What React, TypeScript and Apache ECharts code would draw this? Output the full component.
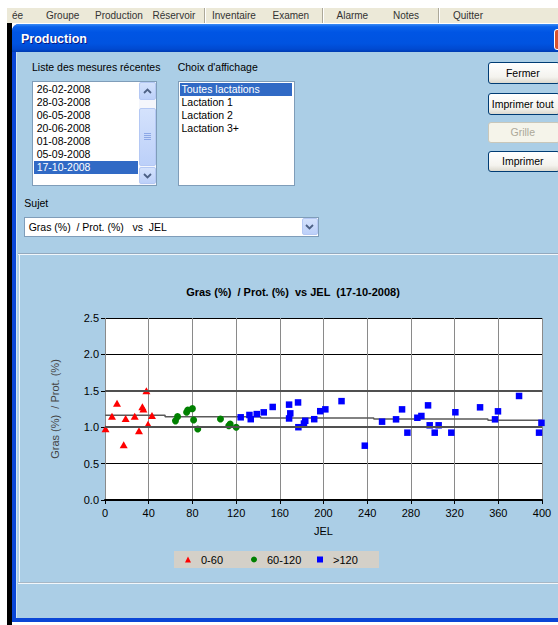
import React, { useEffect, useRef } from "react";
import * as echarts from "echarts";

const FONT = '"Liberation Sans", Arial, Helvetica, sans-serif';

// ---------- data ----------
const seriesNames = ["0-60", "60-120", ">120"];
const chartTitle = "Gras (%)  / Prot. (%)  vs JEL  (17-10-2008)";
const xAxisName = "JEL";
const yAxisName = "Gras (%)  / Prot. (%)";

const jel0to60 = [0.5, 6.4, 11, 17.1, 18.9, 27.2, 31.1, 34.2, 35.1, 37.9, 39.4, 43];
const ratio0to60 = [0.98, 1.15, 1.33, 0.76, 1.12, 1.15, 0.95, 1.28, 1.25, 1.5, 1.04, 1.16];

const jel60to120 = [64.5, 66.4, 74.7, 75.8, 80, 81.1, 84.9, 105.7, 113.3, 114.6, 120.1];
const ratio60to120 = [1.087, 1.145, 1.205, 1.236, 1.255, 1.1, 0.975, 1.113, 1.02, 1.042, 1.0];

const jelOver120 = [124.2, 132.2, 133.4, 138.9, 145.3, 153.5, 168.5, 169.6, 168.5, 176.7, 177, 182.1, 183.3, 191.5, 197, 201.7, 216.5, 237.8, 253.6, 266.4, 271.9, 276.8, 285.9, 289.6, 295.7, 297.2, 301.8, 305.4, 317, 320.7, 343.3, 357, 359.7, 379, 397.3, 399.5];
const ratioOver120 = [1.136, 1.168, 1.11, 1.18, 1.204, 1.278, 1.31, 1.19, 1.12, 1.34, 1.0, 1.05, 1.088, 1.11, 1.22, 1.245, 1.358, 0.746, 1.076, 1.108, 1.245, 0.925, 1.13, 1.154, 1.3, 1.026, 0.925, 1.026, 0.925, 1.205, 1.273, 1.108, 1.218, 1.429, 0.925, 1.06];

const trendJel = [0, 55, 142.5, 246, 350.5, 400];
const trendRatio = [1.163, 1.143, 1.125, 1.112, 1.095, 1.095];

const referenceLines = [1.0, 1.5];

const xTicks = { min: 0, max: 400, interval: 40 };
const yTicks = { min: 0, max: 2.5, interval: 0.5 };

// ---------- UI texts ----------
const menuItems: [string, number][] = [
  ["ée", 12], ["Groupe", 46], ["Production", 95], ["Réservoir", 152.5], ["Inventaire", 212],
  ["Examen", 272.5], ["Alarme", 336.5], ["Notes", 393], ["Quitter", 453],
];
const menuSeparators = [204, 321.5, 438];
const dates = ["26-02-2008", "28-03-2008", "06-05-2008", "20-06-2008", "01-08-2008", "05-09-2008", "17-10-2008"];
const lactations = ["Toutes lactations", "Lactation 1", "Lactation 2", "Lactation 3+"];
const buttons: [string, number, boolean][] = [
  ["Fermer", 62.3, true], ["Imprimer tout", 93.3, true], ["Grille", 121.7, false], ["Imprimer", 150.5, true],
];

const zip = (xs: number[], ys: number[]) => xs.map((x, i) => [x, ys[i]]);

function pos(left: number, top: number, width: number, height: number, extra: React.CSSProperties = {}): React.CSSProperties {
  return { position: "absolute", left, top, width, height, boxSizing: "border-box", ...extra };
}

const Chevron = ({ up }: { up?: boolean }) => (
  <svg width="9" height="6" viewBox="0 0 9 6" style={{ display: "block" }}>
    <polyline points={up ? "1,5 4.5,1.5 8,5" : "1,1 4.5,4.5 8,1"} fill="none" stroke="#4D6185" strokeWidth="1.8" />
  </svg>
);

const xpBtn: React.CSSProperties = {
  background: "linear-gradient(#D4E2FC, #BCD0F9)",
  border: "1px solid #B4C8F4",
  borderRadius: 2,
  display: "flex",
  alignItems: "center",
  justifyContent: "center",
};

export default function App() {
  const ref = useRef<HTMLDivElement>(null);

  useEffect(() => {
    const chart = echarts.init(ref.current!, undefined, { renderer: "svg" });
    const option: any = {
      animation: false,
      backgroundColor: "transparent",
      textStyle: { fontFamily: FONT },
      graphic: [
        {
          type: "text",
          x: 273,
          y: 37,
          style: {
            text: chartTitle,
            font: `bold 11px ${FONT}`,
            fill: "#000",
            align: "center",
            verticalAlign: "middle",
          },
        },
      ],
      grid: { left: 85, top: 63, width: 437, height: 182, show: true, backgroundColor: "#fff", borderWidth: 0 },
      legend: {
        data: seriesNames,
        left: 154,
        top: 296,
        orient: "horizontal",
        backgroundColor: "#D4D0C8",
        borderWidth: 0,
        padding: [2, 6, 2, 11],
        itemWidth: 6,
        itemHeight: 6,
        itemGap: 10,
        itemStyle: { opacity: 1 },
        textStyle: { fontSize: 11, color: "#000", fontFamily: FONT, width: 40, padding: [0, 0, 0, 5], lineHeight: 13 },
        selectedMode: false,
      },
      xAxis: {
        type: "value",
        min: xTicks.min,
        max: xTicks.max,
        interval: xTicks.interval,
        name: xAxisName,
        nameLocation: "middle",
        nameGap: 25,
        nameTextStyle: { fontSize: 11, color: "#000", fontFamily: FONT },
        axisLine: { show: true, onZero: false, lineStyle: { color: "#000", width: 2 } },
        axisTick: { show: true, length: 4, lineStyle: { color: "#000" } },
        axisLabel: { fontSize: 11, color: "#000", margin: 7, fontFamily: FONT },
        splitLine: { show: true, lineStyle: { color: "#8a8a8a", width: 1 } },
      },
      yAxis: {
        type: "value",
        min: yTicks.min,
        max: yTicks.max,
        interval: yTicks.interval,
        name: yAxisName,
        nameLocation: "middle",
        nameGap: 45,
        nameRotate: 90,
        nameTextStyle: { fontSize: 11, color: "#444", fontFamily: FONT },
        axisLine: { show: false },
        axisTick: { show: true, length: 4, lineStyle: { color: "#000" } },
        axisLabel: { fontSize: 11, color: "#000", margin: 6, fontFamily: FONT, formatter: (v: number) => v.toFixed(1) },
        splitLine: { show: true, lineStyle: { color: "#000", width: 1 } },
      },
      series: [
        {
          name: "trend",
          type: "line",
          step: "end",
          data: zip(trendJel, trendRatio),
          symbol: "none",
          z: 1,
          lineStyle: { color: "#5a5a5a", width: 1.5 },
          silent: true,
          markLine: {
            silent: true,
            symbol: ["none", "none"],
            label: { show: false },
            lineStyle: { color: "#505050", width: 2, type: "solid" },
            data: referenceLines.map((v) => ({ yAxis: v })),
          },
        },
        {
          name: seriesNames[0],
          type: "scatter",
          symbol: "triangle",
          symbolSize: [8, 7],
          itemStyle: { color: "#FF0000", opacity: 1 },
          data: zip(jel0to60, ratio0to60),
          z: 3,
        },
        {
          name: seriesNames[1],
          type: "scatter",
          symbol: "circle",
          symbolSize: 7,
          itemStyle: { color: "#008000", opacity: 1 },
          data: zip(jel60to120, ratio60to120),
          z: 3,
        },
        {
          name: seriesNames[2],
          type: "scatter",
          symbol: "rect",
          symbolSize: 6.5,
          itemStyle: { color: "#0000FF", opacity: 1 },
          data: zip(jelOver120, ratioOver120),
          z: 3,
        },
      ],
    };
    chart.setOption(option);
    return () => chart.dispose();
  }, []);

  const body = "#ABCEE6";

  return (
    <div style={pos(0, 0, 558, 625, { overflow: "hidden", background: "#fff", fontFamily: FONT, fontSize: 10.5, color: "#000" })}>
      {/* menu bar */}
      <div style={pos(7, 8, 551, 15, { background: "#ECE9D8" })} />
      {menuItems.map(([t, x]) => (
        <div key={t} style={pos(x, 8, 80, 15, { lineHeight: "15px", whiteSpace: "nowrap", color: "#333", fontSize: 10 })}>{t}</div>
      ))}
      {menuSeparators.map((x) => (
        <div key={x} style={pos(x, 8, 2, 15, { borderLeft: "1px solid #ACA899", borderRight: "1px solid #fff" })} />
      ))}

      {/* window frame */}
      <div style={pos(7, 23, 5, 602, { background: "#000" })} />
      <div style={pos(12, 24, 560, 598, { background: "#0A46D6", borderTopLeftRadius: 7 })} />
      <div style={pos(12, 24, 560, 28, {
        borderTopLeftRadius: 7,
        background: "linear-gradient(#3B8DF6 0%, #0A62EA 10%, #0055E4 30%, #0053E0 70%, #0049D0 90%, #003BB0 100%)",
      })} />
      <div style={pos(21, 31, 120, 16, { color: "#fff", fontWeight: "bold", fontSize: 12.5, lineHeight: "16px", textShadow: "1px 1px #0A1883" })}>Production</div>
      <div style={pos(554, 29, 22, 21, { background: "#D9532F", border: "1px solid #fff", borderRadius: 3 })} />
      <div style={pos(16, 52, 545, 566, { background: body, borderLeft: "1px solid #CFE3F3" })} />

      {/* list 1 */}
      <div style={pos(32, 60.5, 160, 13, { lineHeight: "13px", whiteSpace: "nowrap" })}>Liste des mesures récentes</div>
      <div style={pos(32, 81, 125, 105, { background: "#fff", border: "1px solid #7F9DB9" })} />
      {dates.map((d, i) => (
        <div key={d} style={pos(34.3, 83 + i * 13, 103.5, 13, {
          lineHeight: "13px", paddingLeft: 2.4,
          background: i === dates.length - 1 ? "#316AC5" : "transparent",
          color: i === dates.length - 1 ? "#fff" : "#000",
        })}>{d}</div>
      ))}
      <div style={pos(138.5, 82, 17, 103, { background: "#F4F6FC" })} />
      <div style={pos(138.5, 82, 17, 18, xpBtn)}><Chevron up /></div>
      <div style={pos(138.5, 107.5, 17, 58, { ...xpBtn, flexDirection: "column", gap: 1 })}>
        <div style={{ width: 7, height: 1, background: "#8CA8E6" }} />
        <div style={{ width: 7, height: 1, background: "#8CA8E6" }} />
        <div style={{ width: 7, height: 1, background: "#8CA8E6" }} />
        <div style={{ width: 7, height: 1, background: "#8CA8E6" }} />
      </div>
      <div style={pos(138.5, 167, 17, 17, xpBtn)}><Chevron /></div>

      {/* list 2 */}
      <div style={pos(177.7, 60.5, 160, 13, { lineHeight: "13px", whiteSpace: "nowrap" })}>Choix d'affichage</div>
      <div style={pos(177.7, 81, 117, 105, { background: "#fff", border: "1px solid #7F9DB9" })} />
      {lactations.map((t, i) => (
        <div key={t} style={pos(180, 83 + i * 13, 112.3, 13, {
          lineHeight: "13px", paddingLeft: 1.5, whiteSpace: "nowrap",
          background: i === 0 ? "#316AC5" : "transparent",
          color: i === 0 ? "#fff" : "#000",
        })}>{t}</div>
      ))}

      {/* subject combo */}
      <div style={pos(24.3, 196.5, 60, 13, { lineHeight: "13px" })}>Sujet</div>
      <div style={pos(24, 216.5, 295, 20.5, { background: "#fff", border: "1px solid #7F9DB9" })} />
      <div style={pos(28.7, 220.5, 260, 13, { lineHeight: "13px", whiteSpace: "pre" })}>{"Gras (%)  / Prot. (%)   vs  JEL"}</div>
      <div style={pos(301.5, 218, 16, 17, xpBtn)}><Chevron /></div>

      {/* buttons */}
      {buttons.map(([t, y, en]) => (
        <div key={t} style={pos(488.3, y, 72, 21.5, {
          border: en ? "1px solid #003C74" : "1px solid #C9C7BA",
          borderRadius: 3,
          background: en ? "linear-gradient(#FFFFFF, #F4F3EE 70%, #DCD9CF)" : "#F5F4EA",
          color: en ? "#000" : "#ACA899",
          display: "flex", alignItems: "center", justifyContent: "center",
          paddingRight: 3, whiteSpace: "nowrap", lineHeight: "13px",
        })}>{t}</div>
      ))}

      {/* chart panel */}
      <div style={pos(18, 253, 545, 1, { background: "#93A9BE" })} />
      <div style={pos(18, 254, 545, 1, { background: "#F2F7FB" })} />
      <div style={pos(19, 255, 1, 328, { background: "#F2F7FB" })} />
      <div style={pos(18, 582, 545, 1, { background: "#A7B7C5" })} />
      <div style={pos(18, 583, 545, 1, { background: "#F2F7FB" })} />
      <div ref={ref} style={pos(20, 255, 538, 327)} />
    </div>
  );
}
